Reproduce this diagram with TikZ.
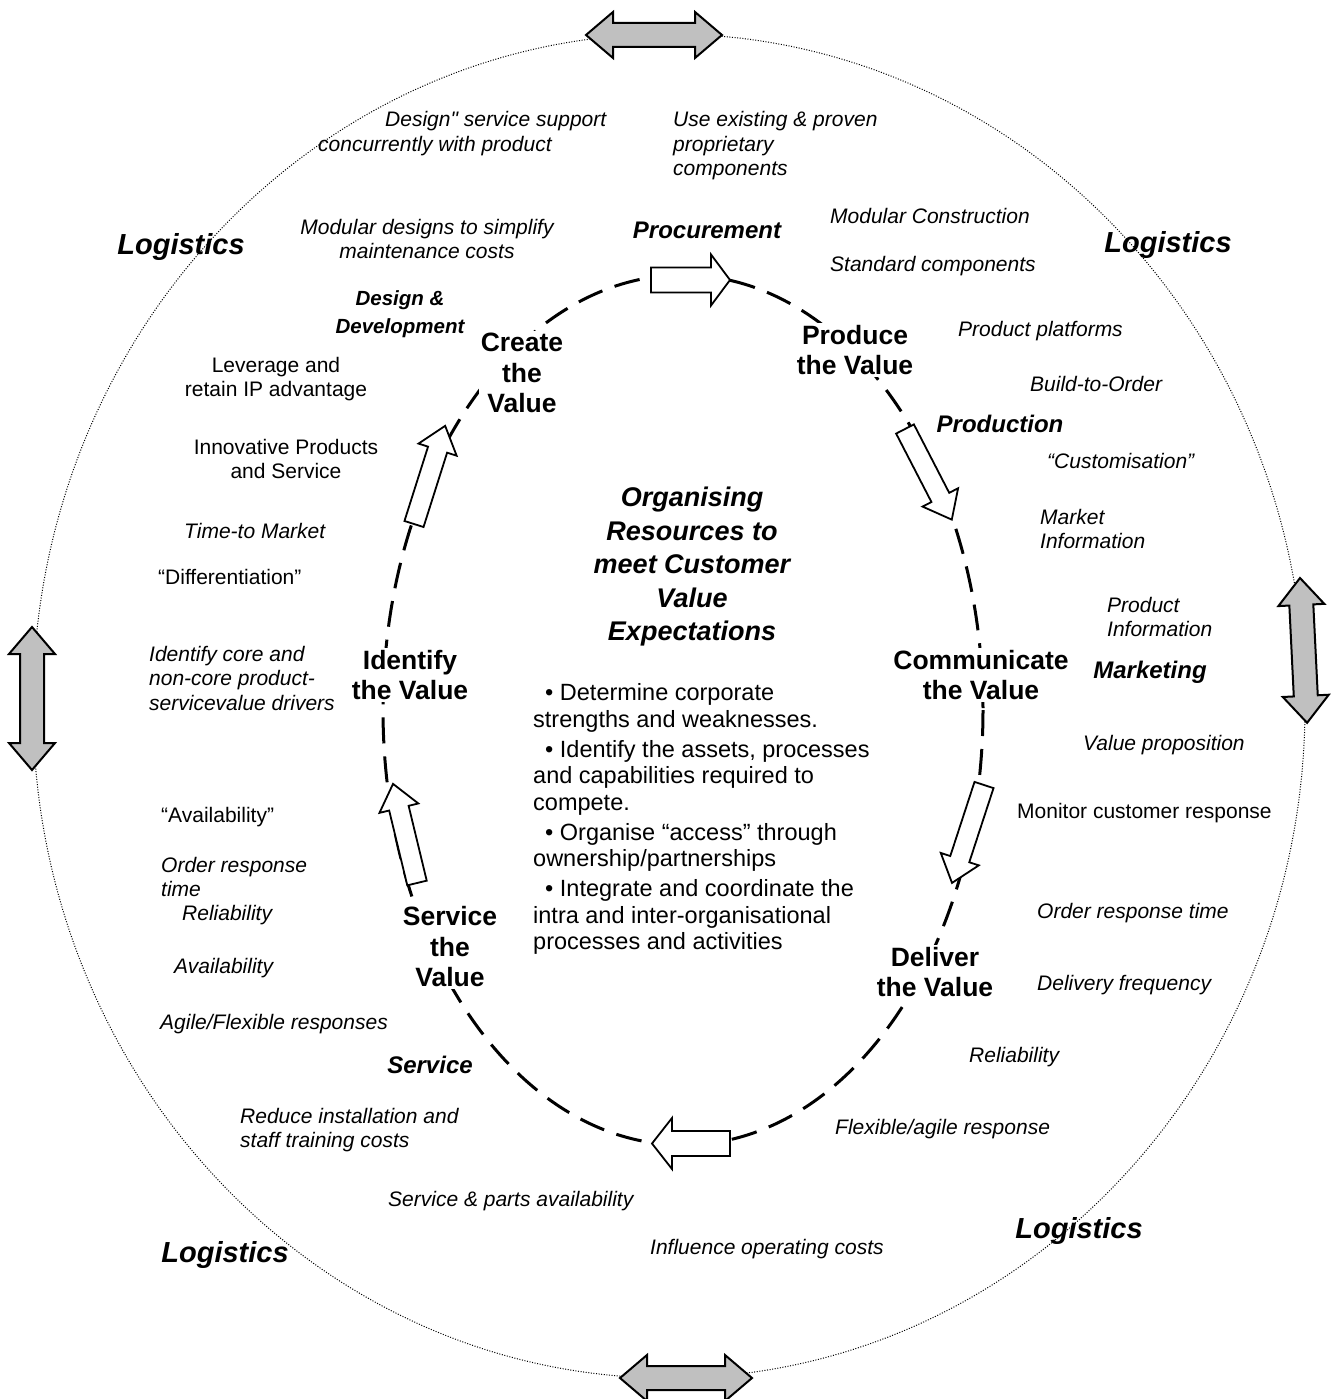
\documentclass[tikz,border=0pt]{standalone}
\usepackage{fontspec}
\setmainfont{Liberation Sans}[Ligatures=TeXOff]
\definecolor{arrowgray}{RGB}{192,192,192}

% block arrow: tail centre (#1,#2), direction #3, length #4,
% shaft half-width #5, head half-width #6, head length #7
\newcommand\blockarrow[7]{%
  \begin{scope}[shift={(#1,#2)}, rotate=#3]
    \draw[flowarrow] (0,#5) -- ({#4-#7},#5) -- ({#4-#7},#6) -- (#4,0)
      -- ({#4-#7},-#6) -- ({#4-#7},-#5) -- (0,-#5) -- cycle;
  \end{scope}}

% two-headed arrow: first tip (#1,#2), direction #3, length #4
\newcommand\dblarrow[4]{%
  \begin{scope}[shift={(#1,#2)}, rotate=#3]
    \draw[linkarrow] (0,0) -- (27,23) -- (27,12) -- ({#4-27},12) -- ({#4-27},23)
      -- (#4,0) -- ({#4-27},-23) -- ({#4-27},-12) -- (27,-12) -- (27,-23) -- cycle;
  \end{scope}}

\begin{document}
\begin{tikzpicture}[x=1pt,y=-1pt,
  note/.style={font=\fontsize{21}{24.5}\selectfont\itshape, inner sep=0pt},
  plain/.style={font=\fontsize{21}{24.5}\selectfont, inner sep=0pt},
  stage/.style={font=\fontsize{26.5}{30.5}\selectfont\bfseries, align=center,
    fill=white, inner sep=2pt},
  section/.style={font=\fontsize{24}{28}\selectfont\bfseries\itshape, inner sep=0pt},
  logi/.style={font=\fontsize{29}{32}\selectfont\bfseries\itshape, inner sep=0pt},
  outerring/.style={line width=1pt, dash pattern=on 1pt off 1.6pt},
  innerring/.style={line width=3pt, dash pattern=on 26pt off 13pt},
  flowarrow/.style={draw=black, fill=white, line width=1.8pt, line join=miter},
  linkarrow/.style={draw=black, fill=arrowgray, line width=2pt, line join=miter}]

\useasboundingbox (0,0) rectangle (1335,1399);
\fill[white] (0,0) rectangle (1335,1399);

% outer logistics ring
\draw[outerring] (669,706) ellipse [x radius=636, y radius=672];

% two-headed arrows on the ring
\dblarrow{586}{35}{0}{136}
\dblarrow{620}{1378}{0}{132}
\dblarrow{32}{627}{-90}{143}
\dblarrow{1300}{578}{-87.2}{145}

% inner value cycle
\draw[innerring] (683,710) ellipse [x radius=300, y radius=435];

% flow arrows along the cycle
\blockarrow{651}{280}{0}{79}{12.5}{25.5}{19}
\blockarrow{905}{429}{-62.7}{102}{10}{20}{25}
\blockarrow{984}{785}{-108.1}{103}{10}{20}{25}
\blockarrow{730}{1143.5}{180}{78}{12.5}{25.5}{20}
\blockarrow{417}{883}{103.6}{102}{10}{20}{25}
\blockarrow{414}{524}{72.4}{103}{10}{20}{25}

% stages of the cycle
\node[stage] (create) at (522,373) {Create\\the\\Value};
\node[stage] (produce) at (855,350) {Produce\\the Value};
\node[stage] (communicate) at (981,675) {Communicate\\the Value};
\node[stage] (deliver) at (935,972) {Deliver\\the Value};
\node[stage] (service) at (450,947) {Service\\the\\Value};
\node[stage] (identify) at (410,675) {Identify\\the Value};

% centre
\node[font=\fontsize{27}{33.5}\selectfont\bfseries\itshape, align=center, inner sep=0pt]
  (title) at (692,567) {Organising\\Resources to\\meet Customer\\Value\\Expectations};
\node[font=\fontsize{23.5}{26.5}\selectfont, align=left, anchor=west, inner sep=0pt]
  (bullets) at (533,819) {%
  \hspace*{12pt}\textbullet\ Determine corporate\\
  strengths and weaknesses.\\[3.5pt]
  \hspace*{12pt}\textbullet\ Identify the assets, processes\\
  and capabilities required to\\
  compete.\\[3.5pt]
  \hspace*{12pt}\textbullet\ Organise “access” through\\
  ownership/partnerships\\[3.5pt]
  \hspace*{12pt}\textbullet\ Integrate and coordinate the\\
  intra and inter-organisational\\
  processes and activities};

% functions
\node[section] (procurement) at (707,230) {Procurement};
\node[section, align=center, font=\fontsize{20.5}{28}\selectfont\bfseries\itshape]
  (design) at (400,314) {Design \&\\Development};
\node[section] (production) at (1000,424) {Production};
\node[section] (marketing) at (1150,672) {Marketing};
\node[section] (servicefn) at (430,1065) {Service};

% logistics
\node[logi] (logtl) at (181,247) {Logistics};
\node[logi] (logtr) at (1168,245) {Logistics};
\node[logi] (logbl) at (225,1255) {Logistics};
\node[logi] (logbr) at (1079,1231) {Logistics};

% value drivers
\node[note, align=left, anchor=west] (n1) at (318,133.5) {\hspace*{67pt}Design" service support\\concurrently with product};
\node[note, align=left, anchor=west] (n2) at (673,146) {Use existing \& proven\\proprietary\\components};
\node[note, align=center] (n3) at (427,239) {Modular designs to simplify\\maintenance costs};
\node[note, anchor=west] (n4) at (830,216) {Modular Construction};
\node[note, anchor=west] (n5) at (830,266) {Standard components};
\node[note, anchor=west] (n6) at (958,331) {Product platforms};
\node[note, anchor=west] (n7) at (1030,384) {Build-to-Order};
\node[note, anchor=west] (n8) at (1047,461) {“Customisation”};
\node[note, align=left, anchor=west] (n9) at (1040,529) {Market\\Information};
\node[note, align=left, anchor=west] (n10) at (1107,617) {Product\\Information};
\node[note, anchor=west] (n11) at (1083,745) {Value proposition};
\node[plain, anchor=west] (n12) at (1017,813) {Monitor customer response};
\node[note, anchor=west] (n13) at (1037,913) {Order response time};
\node[note, anchor=west] (n14) at (1037,985) {Delivery frequency};
\node[note, anchor=west] (n15) at (969,1057) {Reliability};
\node[note, anchor=west] (n16) at (835,1129) {Flexible/agile response};
\node[note, anchor=west] (n17) at (650,1249) {Influence operating costs};
\node[note, anchor=west] (n18) at (388,1201) {Service \& parts availability};
\node[note, align=left, anchor=west] (n19) at (240,1130) {Reduce installation and\\staff training costs};
\node[note, anchor=west] (n20) at (160,1024) {Agile/Flexible responses};
\node[note, anchor=west] (n21) at (174,968) {Availability};
\node[note, anchor=west] (n22) at (182,915) {Reliability};
\node[note, align=left, anchor=west] (n23) at (161,877) {Order response\\time};
\node[plain, anchor=west] (n24) at (161,817) {“Availability”};
\node[note, align=left, anchor=west] (n25) at (149,678) {Identify core and\\non-core product-\\servicevalue drivers};
\node[plain, anchor=west] (n26) at (158,577) {“Differentiation”};
\node[note, anchor=west] (n27) at (184,531) {Time-to Market};
\node[plain, align=center] (n28) at (286,459) {Innovative Products\\and Service};
\node[plain, align=center] (n29) at (276,379) {Leverage and\\retain IP advantage};

\end{tikzpicture}
\end{document}
